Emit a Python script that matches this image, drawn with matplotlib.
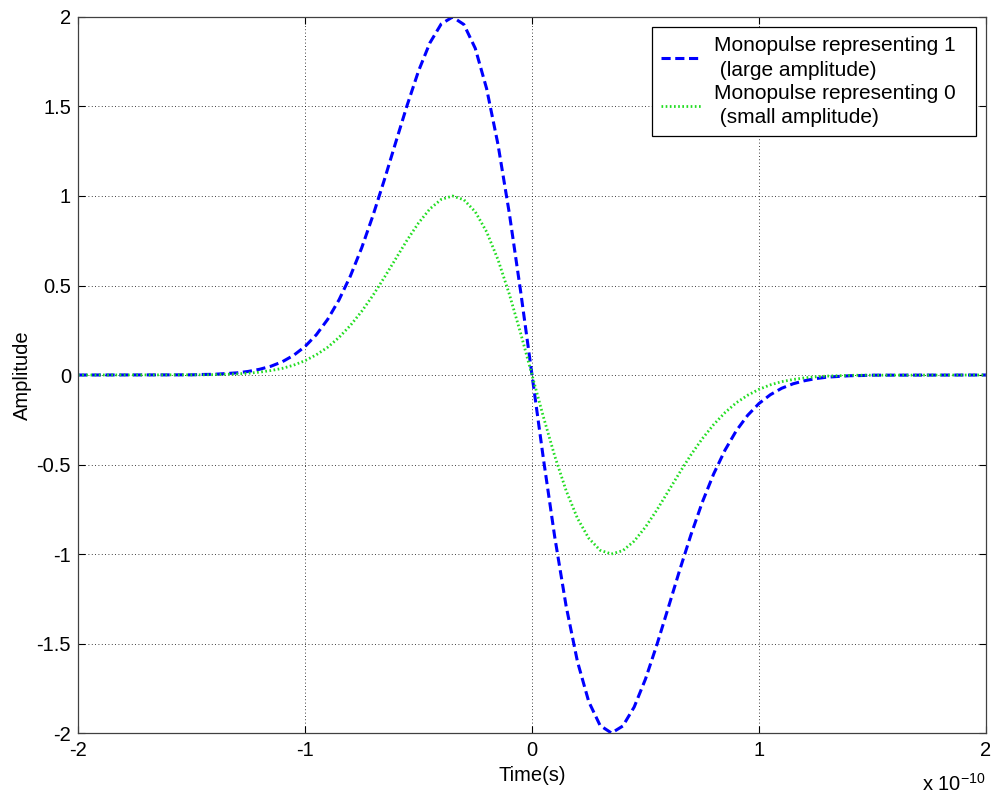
import numpy as np
import matplotlib
matplotlib.use("Agg")
import matplotlib.pyplot as plt

# Time axis in units of 1e-10 s
time_neg = [-2.0, -1.5, -1.45, -1.4, -1.35, -1.3, -1.25, -1.2, -1.15, -1.1,
            -1.05, -1.0, -0.95, -0.9, -0.85, -0.8, -0.75, -0.7, -0.65, -0.6,
            -0.55, -0.5, -0.45, -0.4, -0.35, -0.3, -0.25, -0.2, -0.15, -0.1,
            -0.05, 0.0]
# Large-amplitude monopulse (bit 1), negative-time half
large_neg = [0.0, 0.001, 0.003, 0.004, 0.008, 0.012, 0.020, 0.032, 0.049, 0.074,
             0.110, 0.159, 0.225, 0.311, 0.420, 0.553, 0.711, 0.893, 1.092, 1.301,
             1.507, 1.698, 1.855, 1.961, 2.000, 1.958, 1.825, 1.600, 1.289, 0.904,
             0.466, 0.0]
# Small-amplitude monopulse (bit 0), negative-time half
small_neg = [0.0, 0.001, 0.001, 0.002, 0.004, 0.006, 0.010, 0.016, 0.025, 0.037,
             0.055, 0.080, 0.113, 0.155, 0.210, 0.277, 0.356, 0.446, 0.546, 0.650,
             0.754, 0.849, 0.928, 0.981, 1.000, 0.979, 0.912, 0.800, 0.645, 0.452,
             0.233, 0.0]

# The pulses are odd-symmetric about t = 0
time = np.array(time_neg + [-v for v in time_neg[-2::-1]])
large = np.array(large_neg + [-v for v in large_neg[-2::-1]])
small = np.array(small_neg + [-v for v in small_neg[-2::-1]])

x_ticks = [-2, -1, 0, 1, 2]
y_ticks = [-2, -1.5, -1, -0.5, 0, 0.5, 1, 1.5, 2]
y_tick_labels = ["-2", "-1.5", "-1", "-0.5", "0", "0.5", "1", "1.5", "2"]

plt.rcParams["font.family"] = ["Liberation Sans", "DejaVu Sans"]
FS = 14.5

fig = plt.figure(figsize=(9.92, 7.94), dpi=100)
ax = fig.add_axes([0.0786, 0.0768, 0.9154, 0.9018])

ax.plot(time, large, color="#0000ff", linewidth=2.2, linestyle=(0, (3, 1.5)),
        label="Monopulse representing 1\n (large amplitude)")
ax.plot(time, small, color="#22dd22", linewidth=2.0, linestyle=(0, (0.6, 0.9)),
        label="Monopulse representing 0\n (small amplitude)")

ax.set_xlim(-2, 2)
ax.set_ylim(-2, 2)
ax.set_xticks(x_ticks)
ax.set_xticklabels([str(v) for v in x_ticks])
ax.set_yticks(y_ticks)
ax.set_yticklabels(y_tick_labels)
ax.grid(True, color="black", linestyle=(0, (1, 3)), linewidth=0.6)
ax.tick_params(direction="in", length=5, width=0.8, top=True, right=True,
               labelsize=FS, colors="black")
ax.tick_params(axis="x", pad=6)
ax.tick_params(axis="y", pad=5)
for sp in ax.spines.values():
    sp.set_color("#404040")
    sp.set_linewidth(0.9)

ax.set_xlabel("Time(s)", fontsize=FS, labelpad=4)
ax.set_ylabel("Amplitude", fontsize=FS, labelpad=3)
fig.text(986 / 992, 1 - 791 / 794, r"x 10$^{\mathregular{-10}}$",
         ha="right", va="baseline", fontsize=FS)

# Legend box spans a fixed width in the upper right corner
leg = ax.legend(loc="upper left", bbox_to_anchor=(0.6322, 0.986, 0.3568, 0.0),
                mode="expand", borderaxespad=0.0,
                fontsize=15, frameon=True, fancybox=False,
                edgecolor="black", framealpha=1.0, handlelength=1.9,
                handletextpad=0.6, labelspacing=0.2, borderpad=0.45)
leg.get_frame().set_linewidth(0.9)
for t in leg.get_texts():
    t.set_linespacing(1.35)

fig.savefig("out.png", dpi=100)
